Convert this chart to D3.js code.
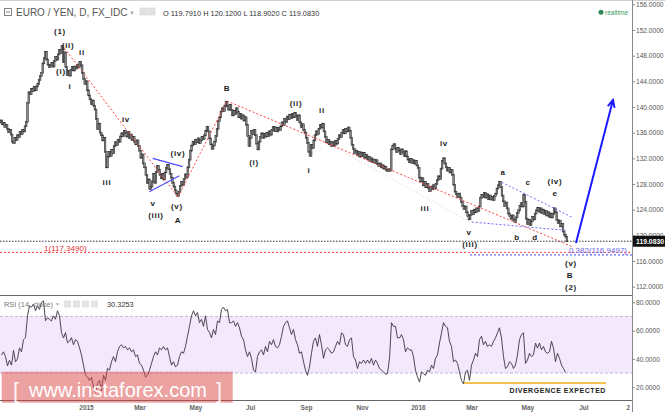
<!DOCTYPE html>
<html><head><meta charset="utf-8">
<script src="https://cdn.jsdelivr.net/npm/d3@7"></script>
<style>
html,body{margin:0;padding:0;background:#fff;overflow:hidden;}
svg{display:block;font-family:"Liberation Sans",Arial,sans-serif;}
</style></head><body>
<svg id="c" width="665" height="412"></svg>
<script>
// ---------------- DATA ----------------
const START_DATE = "2014-09-29";
const FIRST_OPEN = 137.9;
const closesA = [
137.6,137.9,137.3,137.5,136.9,137.2,136.6,136.1,136.4,135.7,
134.6,134.4,135.2,134.9,135.6,135.3,136.1,135.8,136.4,136.2,
137.0,137.7,140.6,142.3,142.0,142.8,142.5,143.1,142.6,143.2,
143.6,144.2,144.8,145.3,146.8,147.6,148.6,147.4,146.6,146.2,
146.5,146.9,146.3,147.2,147.8,147.4,148.2,148.9,148.4,149.5,
147.0,148.5,146.2,145.0,145.6,144.9,145.8,146.2,145.7,146.3,
146.0,146.6,146.2,147.0,146.5,145.3,144.4,143.6,144.0,142.6,
141.8,141.2,140.5,141.0,140.2,139.6,138.1,136.6,137.4,136.0,
135.6,134.8,135.2,133.0,130.6,132.2,133.0,132.4,133.3,132.8,
133.9,134.5,134.1,134.9,134.6,135.4,135.9,135.5,136.3,136.0,
135.4,136.1,135.2,135.7,134.9,135.3,134.6,134.2,134.8,133.9];
const closesB = [
133.2,132.1,132.6,131.2,130.6,129.4,128.2,128.7,127.2,127.6,
128.4,129.6,128.2,129.9,130.8,130.2,129.4,128.9,129.6,128.7,
129.8,130.5,131.0,130.3,129.6,129.0,128.2,127.6,127.0,126.5,
126.1,126.8,127.7,128.3,127.9,128.8,129.5,129.1,130.6,131.8,
133.2,134.0,134.6,134.2,134.9,134.5,135.1,134.4,134.8,135.3,
135.0,135.6,136.3,136.9,136.2,135.1,134.2,133.5,134.0,134.6,
135.5,136.6,137.8,138.4,139.3,139.8,139.4,140.2,140.8,140.1,
139.6,140.3,139.5,138.7,139.4,138.9,139.8,139.2,138.4,138.9,
138.2,138.7,137.9,138.4,137.2,135.5,133.9,135.2,136.3,135.8,
136.4,135.6,134.3,133.4,134.6,135.3,135.9,135.2,135.8,135.4,
136.0,135.5,136.2,135.7,136.4,136.9,136.3,136.8,136.2,136.7];
const closesC = [
136.4,137.0,137.6,137.2,138.1,137.7,138.5,138.1,138.8,138.3,
138.9,138.4,139.1,138.6,138.0,138.7,137.6,136.9,137.3,136.4,
136.0,135.2,134.4,133.0,132.4,134.1,133.6,134.8,135.6,136.2,
135.8,136.6,137.2,136.8,137.4,136.2,135.3,134.5,134.9,134.2,
134.6,133.9,134.5,134.0,134.7,134.3,135.0,135.6,135.3,136.0,
136.4,135.9,136.6,136.2,136.8,136.3,135.2,134.1,133.5,132.8,
133.2,132.6,133.0,132.3,132.9,132.4,132.8,132.1,132.5,131.9,
132.2,131.6,132.0,131.4,131.8,131.3,131.7,131.1,130.8,131.2,
130.6,130.9,130.4,130.7,130.2,130.0,130.3,130.1,133.4,133.9,
134.2,133.5,133.0,133.6,133.2,132.7,133.4,133.0,132.4,133.1,
132.3,131.8,131.4,131.9,131.3,131.7,131.2,131.6,130.9,130.5];
const closesD = [
129.0,128.4,128.9,127.8,128.3,127.5,128.0,127.4,126.9,127.6,
127.2,127.8,127.3,128.0,128.6,129.2,128.8,130.4,131.6,132.0,
131.2,130.6,130.1,130.5,129.8,130.2,129.4,127.9,126.8,126.4,
126.0,126.5,125.9,125.2,124.6,124.1,124.5,123.6,123.0,122.5,
123.2,123.8,123.3,124.0,123.6,124.2,123.8,124.5,125.8,126.3,
126.0,126.6,125.9,126.4,125.7,126.2,125.6,126.0,125.5,126.1,
126.5,127.3,127.8,128.3,127.5,126.2,125.3,124.6,125.1,124.2,
123.4,123.0,122.6,123.1,122.4,122.1,122.8,123.5,123.9,124.6,
125.0,124.5,126.3,125.2,122.6,121.8,122.4,121.6,122.2,122.9,
122.5,123.4,123.9,124.3,123.7,124.2,123.5,124.0,123.3,123.8,
123.1,123.6,122.9,123.4,122.8,123.3,124.2,123.6,122.4,121.9,
122.3,121.4,121.8,120.6,120.1,119.79,119.083];

// RSI(14), one sample roughly every 1.57 bars
const RSI_STEP = 1.5723;
const rsiValues = [
42.8,45,41.6,35,39,35.6,46,38,40,47.8,
45,53.6,55,70.4,77.5,76.6,78.8,74,77.5,75,
80,81,67,69,68,66.8,70.4,68,74,70.4,
58.6,54.8,58.6,51.4,52.4,55,50,53.6,52.4,47.8,
42.8,35.6,28.4,27.2,24.8,27,20,16.4,22.6,24.8,
17.6,28.4,24.8,33.4,32,38,41.6,38,45,48.8,
50,47.8,48.8,46.4,47.8,45,46.4,41.6,42.8,36.8,
35.6,32,27.2,28.4,32,36.8,41.6,45,42.8,47.8,
46.4,48.8,46.4,47.8,41.6,35.6,38,34.4,35.6,41.6,
45,44,48.8,56,63,70.4,74,70.4,72.8,65.6,
68,63,70.4,60.8,58.6,54.8,60.8,57.2,66.8,65.6,
75,76.6,74,75,65.6,65.6,66.8,63,65.6,62,
56,53.6,46.4,41.6,45,40.4,32,30.8,41.6,45,
46.4,42.8,48.8,45,52.4,50,53.6,48.8,47.8,50,
56,63,65.6,66.8,62,57.2,60.8,53.6,50,44,
45,38,32,28.4,34.4,44,52.4,54.8,48.8,57.2,
50,40.4,46.4,47.8,
46.4,44,45,48.8,52.4,50,58.4,57.2,50,48.8,
53.6,54.8,41.6,39.2,33.2,38,36.8,39.2,36.8,39.2,
36.8,40.4,35.6,39.2,36.8,33.2,32,30.8,29.1,29.6,
40.4,65.6,63,63,54.8,54.8,57.2,53.6,45,47.8,
46.4,46.4,41.6,32,27.2,23.6,30.8,29.6,28.4,32,
30.8,35.6,33.2,40.4,42.8,51.2,58.4,
65.6,63,62,52.4,48.8,38,39.2,36.8,30.8,24.8,
22.4,30.8,32,24.8,35.6,39.2,44,41.6,53.6,56,
50,52.4,48.8,50,48.8,52.4,54.8,58.4,62,54.8,
41.6,33.2,34.4,38,36.8,33.2,35.6,42.8,53.6,57.2,
58.4,36.8,39.2,44,41.6,42.8,51.2,47.6,51.2,46.4,
48.8,45,44,45,52.4,47.6,38,44,40.4,35.6,
33.2,30.3];

const priceTicks = [156,152,148,144,140,136,132,128,124,120,116,112];
const rsiTicks = [80,60,40,20];
const timeTickDates = ["2015-01-01","2015-03-01","2015-05-01","2015-07-01","2015-09-01","2015-11-01","2016-01-01","2016-03-01","2016-05-01","2016-07-01","2016-08-19"];
const timeTickLabels = ["2015","Mar","May","Jul","Sep","Nov","2016","Mar","May","Jul","2"];

const ohlc = {O:"119.7910", H:"120.1200", L:"118.9020", C:"119.0830"};
const lastRsi = "30.3253";
const fib1Level = 117.349;
const fib382Level = 116.9497;

// wave labels anchored in (bar index, price)
const waveLabels = [
 ["(1)",47.6,151.7],["(ii)",53.9,149.66],["ii",64.9,148.57],["(i)",48.3,145.46],["i",55.4,143.12],
 ["iii",84.5,128.31],["iv",99.4,137.98],["v",120.7,124.89],["(iii)",123.0,123.02],
 ["(iv)",140.3,132.83],["(v)",139.5,124.42],["A",140.3,122.39],["B",178.8,142.81],
 ["(i)",200.1,131.43],["(ii)",233.1,140.47],["ii",253.5,139.38],["i",243.3,130.03],
 ["iii",334.5,124.26],["iv",349.4,134.24],["v",369.1,120.52],["(iii)",369.9,118.65],
 ["a",395.8,129.72],["c",415.5,128.31],["(iv)",436.7,128.47],["e",436.7,126.6],
 ["b",406.8,119.74],["d",421.0,119.74],["(v)",449.3,115.69],["B",448.5,113.67],["(2)",449.3,111.8]
];
// trend lines [i1,p1,i2,p2]
const redLines = [[49.1,149.66,140.3,125.98],[140.3,125.98,178.8,140.94],[178.8,140.94,450.9,118.19]];
const faintLine = [236.2,136.73,369.9,122.08];
const triLines = [[120.4,132.0,144.0,130.7],[117.8,126.8,141.4,129.3]];
const wedgeLines = [[394.8,128.27,450.9,122.75],[371.2,122.08,446.1,120.76]];
const arrowLine = [453.2,118.81,482.3,141.09];
const divergence = {i0:365.2, i1:476.8, v:23};

// ---------------- BUILD ----------------
const closes = closesA.concat(closesB, closesC, closesD);
const bars = closes.map((c,i)=>({i, o: i ? closes[i-1] : FIRST_OPEN, c}));
const dates=[]; {let d=new Date(START_DATE+"T00:00:00Z");
 while(dates.length<560){const w=d.getUTCDay(); if(w!==0&&w!==6) dates.push(new Date(d)); d.setUTCDate(d.getUTCDate()+1);} }
const idxOf = s => { const t=new Date(s+"T00:00:00Z"); return dates.findIndex(v=>v>=t); };

const PR = 632;
const svg = d3.select("#c");
const x = d3.scaleLinear().domain([0,500]).range([-0.5,-0.5+1.272*500]);
const y = d3.scaleLinear().domain([112,152]).range([286.7,30]);
const yr = d3.scaleLinear().domain([20,80]).range([387.2,302.3]);

const defs = svg.append("defs");
defs.append("clipPath").attr("id","cm").append("rect").attr("x",0).attr("y",18).attr("width",PR).attr("height",277);
defs.append("clipPath").attr("id","cr").append("rect").attr("x",0).attr("y",296).attr("width",PR).attr("height",104);

// frame
svg.append("line").attr("x1",0).attr("x2",665).attr("y1",0.5).attr("y2",0.5).attr("stroke","#d0d0d0");

const gm = svg.append("g").attr("clip-path","url(#cm)");

// faint dotted line
gm.append("line").attr("x1",x(faintLine[0])).attr("y1",y(faintLine[1])).attr("x2",x(faintLine[2])).attr("y2",y(faintLine[3]))
  .attr("stroke","#f0c8c8").attr("stroke-width",0.8).attr("stroke-dasharray","1.5,2");

// candles
gm.selectAll("rect.bar").data(bars).join("rect").attr("class","bar")
  .attr("x",d=>x(d.i)-0.8).attr("width",1.6)
  .attr("y",d=>y(Math.max(d.o,d.c))-0.5).attr("height",d=>Math.max(2,Math.abs(y(d.o)-y(d.c))+1))
  .attr("fill","#8c8c8c").attr("stroke","#2a2a2a").attr("stroke-width",0.55);

// red lines
redLines.forEach(l=>gm.append("line").attr("x1",x(l[0])).attr("y1",y(l[1])).attr("x2",x(l[2])).attr("y2",y(l[3]))
  .attr("stroke","#ff4040").attr("stroke-width",1).attr("stroke-dasharray","2,2"));
// blue triangle
triLines.forEach(l=>gm.append("line").attr("x1",x(l[0])).attr("y1",y(l[1])).attr("x2",x(l[2])).attr("y2",y(l[3]))
  .attr("stroke","#4b4bff").attr("stroke-width",1.2));
// wedge dotted
wedgeLines.forEach(l=>gm.append("line").attr("x1",x(l[0])).attr("y1",y(l[1])).attr("x2",x(l[2])).attr("y2",y(l[3]))
  .attr("stroke","#6b6bff").attr("stroke-width",1).attr("stroke-dasharray","2,2"));

// horizontal levels
const lastClose = closes[closes.length-1];
gm.append("line").attr("x1",0).attr("x2",PR).attr("y1",y(lastClose)).attr("y2",y(lastClose))
  .attr("stroke","#222").attr("stroke-width",0.9).attr("stroke-dasharray","1.5,1.5");
gm.append("line").attr("x1",0).attr("x2",PR).attr("y1",y(fib1Level)).attr("y2",y(fib1Level))
  .attr("stroke","#ff3b3b").attr("stroke-width",1).attr("stroke-dasharray","2,2");
gm.append("line").attr("x1",x(369.9)).attr("x2",PR).attr("y1",y(fib382Level)).attr("y2",y(fib382Level))
  .attr("stroke","#4444ff").attr("stroke-width",1).attr("stroke-dasharray","2,2");
gm.append("text").attr("x",x(35)).attr("y",y(fib1Level)-1.5).attr("font-size",8).attr("fill","#e83030")
  .text("1(" + fib1Level.toFixed(4) + ")");
gm.append("text").attr("x",PR-5).attr("y",y(fib382Level)-1.5).attr("text-anchor","end").attr("font-size",8).attr("fill","#6a6ae8")
  .text("0.382(" + fib382Level.toFixed(4) + ")");

// blue arrow
const ax1=x(arrowLine[0]), ay1=y(arrowLine[1]), ax2=x(arrowLine[2]), ay2=y(arrowLine[3]);
gm.append("line").attr("x1",ax1).attr("y1",ay1).attr("x2",ax2).attr("y2",ay2).attr("stroke","#1a1aff").attr("stroke-width",2);
{const ang=Math.atan2(ay2-ay1,ax2-ax1), L=8, s=0.45;
 const p=[[ax2-L*Math.cos(ang-s),ay2-L*Math.sin(ang-s)],[ax2,ay2],[ax2-L*Math.cos(ang+s),ay2-L*Math.sin(ang+s)]];
 gm.append("path").attr("d",d3.line()(p)).attr("fill","none").attr("stroke","#1a1aff").attr("stroke-width",2);}

// wave labels
gm.selectAll("text.w").data(waveLabels).join("text").attr("class","w")
  .attr("x",d=>x(d[1])).attr("y",d=>y(d[2])).attr("text-anchor","middle").attr("dominant-baseline","central")
  .attr("font-size",8).attr("font-weight","bold").attr("letter-spacing",0.7).attr("fill","#222").text(d=>d[0]);

// header
svg.append("rect").attr("x",4.5).attr("y",8.5).attr("width",7).attr("height",7).attr("fill","none").attr("stroke","#666").attr("stroke-width",0.8);
svg.append("line").attr("x1",6).attr("x2",10).attr("y1",12).attr("y2",12).attr("stroke","#666").attr("stroke-width",0.8);
svg.append("text").attr("x",16).attr("y",16).attr("font-size",10).attr("fill","#555").text("EURO / YEN, D, FX_IDC");
svg.append("text").attr("x",129).attr("y",15).attr("font-size",6).attr("fill","#aaa").text("▼");
[140,148].forEach(px=>svg.append("rect").attr("x",px).attr("y",8).attr("width",7).attr("height",7).attr("fill","#e2e2e2").attr("stroke","#d0d0d0").attr("stroke-width",0.5));
svg.append("text").attr("x",163).attr("y",15.5).attr("font-size",7.4).attr("fill","#333")
  .text(`O ${ohlc.O}  H ${ohlc.H}  L ${ohlc.L}  C ${ohlc.C}`);
svg.append("circle").attr("cx",601).attr("cy",12.3).attr("r",2.5).attr("fill","#2e8b57");
svg.append("text").attr("x",605).attr("y",14.8).attr("font-size",6.5).attr("fill","#3a9a5a").text("realtime");

// price axis
const ya = svg.append("g").attr("transform",`translate(${PR},0)`)
  .call(d3.axisRight(y).tickValues(priceTicks).tickFormat(d=>d.toFixed(4)).tickSize(3).tickPadding(1));
ya.select(".domain").remove();
ya.selectAll("line").attr("stroke","#888");
ya.selectAll("text").attr("font-size",6.6).attr("fill","#555").attr("font-family","Liberation Sans, Arial");
// close label
svg.append("rect").attr("x",633).attr("y",y(lastClose)-5.5).attr("width",32).attr("height",11).attr("fill","#111");
svg.append("text").attr("x",636).attr("y",y(lastClose)+2.5).attr("font-size",6.8).attr("font-weight","bold").attr("fill","#fff").text(lastClose.toFixed(4));

// pane separators / axis lines
svg.append("line").attr("x1",PR+0.5).attr("x2",PR+0.5).attr("y1",0).attr("y2",412).attr("stroke","#888");
svg.append("line").attr("x1",0).attr("x2",PR).attr("y1",295.5).attr("y2",295.5).attr("stroke","#666");
svg.append("line").attr("x1",0).attr("x2",PR).attr("y1",400.5).attr("y2",400.5).attr("stroke","#666");

// RSI pane
const gr = svg.append("g").attr("clip-path","url(#cr)");
gr.append("rect").attr("x",0).attr("width",PR).attr("y",yr(70)).attr("height",yr(30)-yr(70)).attr("fill","#f3e9fc");
[70,30].forEach(v=>gr.append("line").attr("x1",0).attr("x2",PR).attr("y1",yr(v)).attr("y2",yr(v))
  .attr("stroke","#b7a8c8").attr("stroke-width",0.8).attr("stroke-dasharray","3,2"));
gr.append("path").datum(rsiValues).attr("fill","none").attr("stroke","#3b333f").attr("stroke-width",0.9)
  .attr("d",d3.line().x((d,j)=>x((j+1)*RSI_STEP)).y(d=>yr(d)));
gr.append("line").attr("x1",x(divergence.i0)).attr("x2",x(divergence.i1)).attr("y1",yr(divergence.v)).attr("y2",yr(divergence.v))
  .attr("stroke","#f2c14e").attr("stroke-width",2);
gr.append("text").attr("x",x(divergence.i1)).attr("y",yr(divergence.v)+10.5).attr("text-anchor","end")
  .attr("font-size",7).attr("font-weight","bold").attr("letter-spacing",0.55).attr("fill","#222").text("DIVERGENCE EXPECTED");

svg.append("text").attr("x",4).attr("y",307).attr("font-size",7.4).attr("fill","#777").text("RSI (14, close)");
svg.append("text").attr("x",55).attr("y",306).attr("font-size",5).attr("fill","#aaa").text("▼");
[64,73,82,91].forEach(px=>svg.append("rect").attr("x",px).attr("y",300.5).attr("width",7).attr("height",7).attr("fill","#e4e4e4"));
svg.append("text").attr("x",107).attr("y",307).attr("font-size",7.4).attr("fill","#333").text(lastRsi);

const ra = svg.append("g").attr("transform",`translate(${PR},0)`)
  .call(d3.axisRight(yr).tickValues(rsiTicks).tickFormat(d=>d.toFixed(4)).tickSize(3).tickPadding(1));
ra.select(".domain").remove();
ra.selectAll("line").attr("stroke","#888");
ra.selectAll("text").attr("font-size",6.6).attr("fill","#555").attr("font-family","Liberation Sans, Arial");

// time axis
const tIdx = timeTickDates.map(idxOf);
const ta = svg.append("g").attr("transform","translate(0,400)")
  .call(d3.axisBottom(x).tickValues(tIdx).tickFormat((d,k)=>timeTickLabels[k]).tickSize(0).tickPadding(5));
ta.select(".domain").remove();
ta.selectAll("text").attr("font-size",6.5).attr("font-weight","bold").attr("fill","#666").attr("font-family","Liberation Sans, Arial");

// watermark
svg.append("rect").attr("x",1.7).attr("y",371.7).attr("width",231).attr("height",31).attr("fill","#dc4646").attr("opacity",0.5);
const wm = svg.append("g").attr("fill","#fff").attr("font-family","Liberation Sans, Arial");
wm.append("text").attr("x",13).attr("y",398).attr("font-size",22).attr("opacity",0.9).text("[");
wm.append("text").attr("x",29).attr("y",397).attr("font-size",21).attr("textLength",178).attr("lengthAdjust","spacingAndGlyphs").text("www.instaforex.com");
wm.append("text").attr("x",216).attr("y",398).attr("font-size",22).attr("opacity",0.9).text("]");
</script></body></html>
